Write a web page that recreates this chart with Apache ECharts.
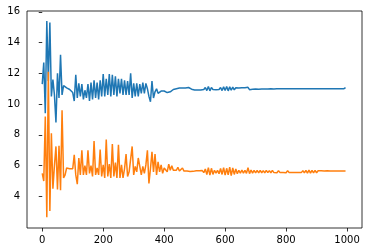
<!DOCTYPE html>
<html>
<head>
<meta charset="utf-8">
<script src="https://cdn.jsdelivr.net/npm/echarts@6/dist/echarts.min.js"></script>
<style>
html,body{margin:0;padding:0;background:#fff;}
#chart{width:368px;height:252px;}
</style>
</head>
<body>
<div id="chart"></div>
<script>
// sample spacing along x (values read every 5 steps)
const SAMPLE_STEP = 5;

const blueValues = [
  11.3, 12.7, 9.4, 15.4, 11.5, 15.3, 10.5, 11.6, 10.6, 8.8, 12.0, 10.4, 13.2, 10.6, 11.2, 11.1, 11.05, 11.1, 10.95, 10.85,
  10.75, 10.2, 11.9, 10.4, 11.35, 10.5, 11.3, 10.3, 10.9, 10.4, 11.3, 10.2, 11.4, 10.3, 11.55, 10.4, 11.4, 10.3, 11.55, 10.5,
  11.95, 10.5, 11.65, 10.6, 11.95, 10.5, 11.9, 10.6, 11.8, 10.5, 11.65, 10.7, 11.65, 10.6, 11.55, 10.6, 11.5, 10.6, 12.0, 10.4,
  11.35, 10.5, 11.35, 10.5, 11.3, 10.7, 11.4, 10.7, 11.35, 11.0, 10.5, 10.15, 11.5, 10.4, 10.8, 11.0, 10.7, 10.6, 10.85, 10.75,
  10.85, 10.8, 10.75, 10.85, 10.8, 10.9, 10.95, 10.95, 11.0, 11.0, 11.05, 11.05, 11.05, 11.1, 11.05, 11.05, 11.08, 11.0, 10.97, 10.96,
  10.92, 10.99, 10.92, 10.99, 10.92, 11.0, 10.95, 11.08, 10.88, 11.14, 10.86, 11.08, 10.95, 11.03, 10.94, 11.03, 10.95, 11.08, 10.88, 11.12,
  10.88, 11.14, 10.86, 11.12, 10.9, 11.1, 10.93, 11.06, 10.96, 11.05, 10.97, 11.07, 10.95, 11.06, 10.96, 11.09, 10.94, 11.05, 10.96, 11.06,
  10.98, 11.07, 10.97, 11.07, 10.98, 11.06, 10.98, 11.07, 10.98, 11.06, 10.99, 11.07, 10.98, 11.06, 10.99, 11.07, 10.99, 11.06, 10.99, 11.07,
  10.99, 11.07, 11.0, 11.07, 10.99, 11.07, 11.0, 11.07, 11.0, 11.08, 11.0, 11.07, 11.0, 11.08, 10.99, 11.08, 11.0, 11.08, 11.0, 11.07,
  11.0, 11.08, 11.0, 11.07, 11.0, 11.08, 11.0, 11.07, 11.0, 11.08, 11.0, 11.08, 11.0, 11.07, 11.0, 11.08, 11.0, 11.07, 11.0, 11.07
];

const orangeValues = [
  5.5, 5.0, 9.2, 2.65, 12.1, 3.05, 8.1, 4.5, 6.0, 7.25, 4.45, 7.3, 4.4, 9.6, 5.2, 5.4, 5.85, 5.85, 5.8, 5.85,
  5.8, 6.7, 5.4, 4.8, 6.5, 5.4, 7.0, 5.4, 6.0, 5.4, 7.0, 5.5, 6.0, 5.3, 7.6, 5.4, 5.85, 5.4, 7.05, 5.3,
  6.05, 5.2, 7.7, 5.3, 6.1, 5.2, 7.4, 5.3, 6.2, 5.2, 7.35, 5.2, 6.05, 5.2, 5.8, 6.75, 5.3, 5.6, 5.5, 7.25,
  5.4, 5.95, 5.6, 6.5, 6.4, 5.4, 5.95, 5.5, 6.05, 7.0, 4.85, 5.8, 6.9, 5.6, 6.75, 5.4, 6.25, 5.6, 6.05, 5.5,
  5.85, 5.95, 5.6, 6.1, 5.7, 6.0, 5.7, 5.75, 5.7, 5.9, 5.65, 5.6, 5.85, 5.65, 5.7, 5.65, 5.7, 5.62, 5.6, 5.63,
  5.56, 5.67, 5.55, 5.67, 5.56, 5.68, 5.55, 5.78, 5.42, 5.87, 5.38, 5.83, 5.43, 5.7, 5.52, 5.69, 5.48, 5.82, 5.43, 5.87,
  5.38, 5.83, 5.4, 5.9, 5.36, 5.85, 5.43, 5.78, 5.48, 5.7, 5.52, 5.72, 5.52, 5.7, 5.5, 5.87, 5.48, 5.72, 5.52, 5.69,
  5.53, 5.69, 5.53, 5.7, 5.54, 5.68, 5.53, 5.69, 5.55, 5.68, 5.54, 5.69, 5.55, 5.67, 5.54, 5.68, 5.55, 5.67, 5.55, 5.67,
  5.54, 5.68, 5.55, 5.67, 5.55, 5.66, 5.55, 5.67, 5.55, 5.66, 5.55, 5.68, 5.53, 5.7, 5.52, 5.71, 5.52, 5.7, 5.53, 5.69,
  5.54, 5.67, 5.55, 5.67, 5.55, 5.66, 5.55, 5.67, 5.55, 5.66, 5.55, 5.66, 5.55, 5.66, 5.55, 5.66, 5.55, 5.65, 5.55, 5.65
];

const xTickLabels = [0, 200, 400, 600, 800, 1000];
const yTickLabels = [4, 6, 8, 10, 12, 14, 16];

const xs = blueValues.map((_, i) => i * SAMPLE_STEP);
const bluePoints = xs.map((x, i) => [x, blueValues[i]]);
const orangePoints = xs.map((x, i) => [x, orangeValues[i]]);

const font = { fontFamily: 'DejaVu Sans', fontSize: 10, color: '#000' };

const chart = echarts.init(document.getElementById('chart'), null, { renderer: 'canvas' });
chart.setOption({
  animation: false,
  backgroundColor: '#fff',
  grid: {
    left: 27, right: 6, top: 11, bottom: 24,
    show: true, borderColor: '#000', borderWidth: 0.8, backgroundColor: 'transparent'
  },
  xAxis: {
    type: 'value',
    min: -50, max: 1049,
    axisLine: { show: false },
    splitLine: { show: false },
    axisTick: { show: true, inside: false, length: 3.5, lineStyle: { color: '#000', width: 0.8 }, customValues: xTickLabels },
    axisLabel: Object.assign({ margin: 7, customValues: xTickLabels, formatter: v => String(v) }, font)
  },
  yAxis: {
    type: 'value',
    min: 1.95, max: 16.05,
    axisLine: { show: false },
    splitLine: { show: false },
    axisTick: { show: true, inside: false, length: 3.5, lineStyle: { color: '#000', width: 0.8 }, customValues: yTickLabels },
    axisLabel: Object.assign({ margin: 7, customValues: yTickLabels, formatter: v => String(v) }, font)
  },
  series: [
    { type: 'line', data: bluePoints, showSymbol: false, symbol: 'none', lineStyle: { color: '#1f77b4', width: 1.5 }, itemStyle: { color: '#1f77b4' } },
    { type: 'line', data: orangePoints, showSymbol: false, symbol: 'none', lineStyle: { color: '#ff7f0e', width: 1.5 }, itemStyle: { color: '#ff7f0e' } }
  ]
});
</script>
</body>
</html>
